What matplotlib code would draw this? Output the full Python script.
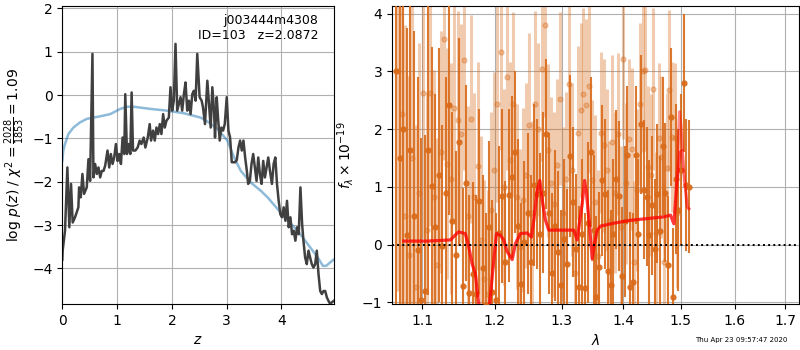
import numpy as np
import matplotlib
matplotlib.use("Agg")
import matplotlib.pyplot as plt
from matplotlib.ticker import FixedLocator, FixedFormatter, NullLocator

plt.rcParams['font.family'] = ['DejaVu Sans']
plt.rcParams['font.size'] = 10

# ---------------- redshift probability ----------------
pz_z = [0.0, 0.006, 0.049, 0.092, 0.128, 0.159, 0.189, 0.232, 0.293, 0.306, 0.336, 0.367,
        0.397, 0.446, 0.477, 0.507, 0.550, 0.568, 0.599, 0.630, 0.660, 0.691, 0.721,
        0.752, 0.782, 0.825, 0.856, 0.886, 0.917, 0.947, 0.978, 1.009, 1.039, 1.070,
        1.100, 1.131, 1.149, 1.180, 1.210, 1.241, 1.265, 1.290, 1.333, 1.375, 1.412,
        1.443, 1.485, 1.516, 1.559, 1.595, 1.620, 1.656, 1.687, 1.718, 1.748, 1.779,
        1.809, 1.840, 1.870, 1.901, 1.944, 1.974, 2.005, 2.035, 2.066, 2.097, 2.127,
        2.158, 2.188, 2.219, 2.249, 2.280, 2.311, 2.341, 2.372, 2.402, 2.433, 2.463,
        2.506, 2.543, 2.567, 2.604, 2.647, 2.677, 2.708, 2.738, 2.769, 2.787, 2.818,
        2.842, 2.873, 2.903, 2.934, 2.965, 3.001, 3.032, 3.062, 3.093, 3.123, 3.154,
        3.184, 3.215, 3.245, 3.276, 3.306, 3.337, 3.368, 3.392, 3.423, 3.453, 3.484,
        3.515, 3.545, 3.576, 3.606, 3.637, 3.667, 3.698, 3.729, 3.759, 3.790, 3.826,
        3.857, 3.888, 3.918, 3.949, 3.979, 4.010, 4.040, 4.071, 4.101, 4.132, 4.163,
        4.193, 4.224, 4.254, 4.285, 4.315, 4.346, 4.377, 4.401, 4.432, 4.462, 4.493,
        4.523, 4.554, 4.584, 4.615, 4.645, 4.676, 4.707, 4.737, 4.768, 4.798, 4.829,
        4.859, 4.890, 4.920, 4.951]
pz_logp = [-3.80, -3.59, -3.13, -1.67, -3.05, -2.05, -2.94, -2.82, -2.59, -2.13, -2.36, -1.82,
           -2.28, -2.13, -1.48, -1.98, 0.95, -1.90, -1.59, -1.82, -1.67, -1.90, -1.75,
           -1.75, -1.63, -1.28, -1.67, -1.36, -1.59, -1.44, -1.13, -1.52, -1.36, -1.59,
           -0.98, -1.36, 0.02, -1.36, -1.13, -1.36, 0.06, -1.28, -1.28, -1.21, -1.05,
           -1.13, -0.98, -1.21, -0.98, -0.67, -1.05, -0.82, -1.05, -0.75, -0.90, -0.67,
           -0.90, -0.44, -0.75, -0.59, -0.52, 0.18, -0.36, -0.13, 1.18, -0.36, -0.21,
           -0.05, -0.36, 0.02, 0.29, -0.36, -0.13, -0.44, 0.02, 0.10, -0.13, 0.95,
           -0.05, -0.13, -0.28, -0.67, 0.33, -0.21, -0.75, 0.18, -0.36, -0.98, -0.05,
           -0.52, -1.05, -0.75, -0.82, -0.67, -0.05, -0.82, -0.98, -1.55, -1.55, -1.55,
           -1.50, -1.21, -1.05, -1.28, -1.05, -1.44, -1.75, -2.05, -1.98, -1.59, -1.36,
           -1.67, -1.98, -1.44, -1.82, -2.05, -1.52, -1.90, -1.67, -1.44, -1.75, -2.05,
           -1.59, -1.44, -2.05, -2.44, -2.75, -2.82, -2.59, -2.90, -2.44, -3.05, -2.82,
           -3.21, -3.13, -3.36, -3.05, -3.21, -2.13, -2.98, -3.36, -3.75, -3.90, -3.59,
           -3.75, -3.90, -3.98, -3.90, -3.59, -4.13, -4.52, -4.59, -4.52, -4.52, -4.67,
           -4.75, -4.82, -4.78, -4.75]

prior_z = [0.0, 0.018, 0.049, 0.110, 0.202, 0.324, 0.446, 0.568, 0.691, 0.874, 0.966, 1.057,
           1.180, 1.302, 1.608, 1.913, 2.219, 2.524, 2.647, 2.830, 3.013, 3.136, 3.258,
           3.441, 3.625, 3.747, 3.930, 4.114, 4.297, 4.480, 4.664, 4.756, 4.817, 4.908, 4.969]
prior_logp = [-1.52, -1.28, -1.13, -0.90, -0.75, -0.63, -0.55, -0.52, -0.49, -0.44, -0.38, -0.32,
              -0.27, -0.27, -0.32, -0.36, -0.42, -0.52, -0.61, -0.78, -1.05, -1.44, -1.75,
              -2.02, -2.21, -2.36, -2.63, -2.90, -3.13, -3.44, -3.75, -3.94, -3.94, -3.84, -3.78]

root_name = 'j003444m4308'
obj_id = 103
z_best = 2.0872
chi2_num, chi2_dof = 2028, 1853

# ---------------- 1D spectra ----------------
# two exposures sampled on the grism pixel grid
dark_wave0, dark_dwave, dark_n = 1.066, 0.00467, 97
dark_flux = [3.0, 1.5, 2.0, 0.16, 1.63, 0.5, -0.1, -0.96, -0.8, 1.63,
             1.02, 0.3, 1.2, -0.03, 0.9, 2.41, 0.4, -0.18, 1.78, -0.72,
             1.07, -0.84, -0.51, -0.85, 0.75, -0.4, -1.05, 0.3, -0.82, -0.96,
             0.2, 0.84, -0.3, 0.85, 1.17, 1.6, 0.33, -0.68, 0.05, 0.54,
             -0.3, 1.03, 0.88, 0.19, 0.9, 1.92, 0.54, -0.5, 0.33, -0.13,
             -0.7, 0.09, -0.33, 1.53, 0.74, -0.07, -0.73, 0.19, -0.76, 0.38,
             1.6, 0.25, -0.9, -0.39, 1.11, 0.88, -0.45, -0.7, 0.19, 1.13,
             0.84, -0.55, 0.4, 1.55, -0.73, -0.65, 1.55, 0.19, 2.08, 0.95,
             0.83, 0.16, 0.68, -0.07, 0.88, 0.23, 1.71, 0.9, -0.36, 2.21,
             -0.91, 1.13, 0.6, 1.3, 2.8, 1.03, 1.0]
dark_err = [4.2, 4.0, 3.8, 3.6, 3.4, 3.2, 3.0, 2.8, 2.7, 2.5,
            2.4, 2.3, 2.2, 2.1, 2.0, 1.9, 1.9, 1.8, 1.8, 1.7,
            1.7, 1.7, 1.6, 1.7, 1.6, 1.6, 1.6, 1.5, 1.6, 1.5,
            1.5, 1.5, 1.4, 1.5, 1.4, 1.4, 1.5, 1.4, 1.4, 1.4,
            1.5, 1.4, 1.3, 1.4, 1.4, 1.3, 1.4, 1.4, 1.3, 1.4,
            1.3, 1.4, 1.3, 1.4, 1.3, 1.3, 1.4, 1.3, 1.3, 1.4,
            1.3, 1.3, 1.4, 1.3, 1.3, 1.3, 1.4, 1.3, 1.3, 1.2,
            1.3, 1.2, 1.3, 1.2, 1.3, 1.2, 1.2, 1.3, 1.2, 1.2,
            1.2, 1.3, 1.2, 1.2, 1.2, 1.3, 1.2, 1.2, 1.2, 1.2,
            1.2, 1.3, 1.4, 1.3, 1.2, 1.15, 1.15]

light_wave0, light_dwave, light_n = 1.0685, 0.00467, 92
light_flux = [3.0, 2.27, 0.5, -0.18, 1.5, -0.73, 0.9,
              2.62, 0.25, 2.62, 0.83, -0.36, 1.6, 3.56,
              1.4, 1.14, 2.36, 2.15, 1.92, 3.2, 0.5,
              2.18, 0.83, 1.36, 0.08, -0.59, -0.85, 0.6,
              1.29, 2.44, 3.34, 1.0, 2.9, 1.47, 2.43,
              0.83, -0.04, 0.77, 1.2, 2.07, 0.54, 2.44,
              2.0, 3.05, 3.81, 1.63, 1.06, 0.7, 1.37,
              2.53, 0.54, 1.14, 2.78, 1.3, -0.5, 1.94,
              2.33, 2.6, 2.41, 2.74, 1.11, 0.74, -0.2,
              1.94, 1.72, 1.29, 0.4, 1.78, 0.9, 1.92,
              0.3, 3.22, 1.06, 1.82, 1.66, -0.3, 0.95,
              2.44, 3.0, 3.02, 1.34, 1.2, 2.7, 0.2,
              1.85, 1.52, -0.3, 1.32, 2.67, 1.86, 1.84,
              0.54]
light_err = [3.8, 3.5, 3.3, 3.1, 3.0, 2.8, 2.6, 2.5, 2.4, 2.3,
             2.2, 2.2, 2.1, 2.1, 2.0, 2.0, 2.0, 1.9, 1.9, 1.9,
             1.9, 1.8, 1.8, 1.8, 1.8, 1.7, 1.8, 1.7, 1.7, 1.7,
             1.7, 1.7, 1.6, 1.7, 1.6, 1.6, 1.7, 1.6, 1.6, 1.6,
             1.6, 1.6, 1.5, 1.6, 1.6, 1.5, 1.5, 1.6, 1.5, 1.5,
             1.5, 1.5, 1.6, 1.5, 1.5, 1.5, 1.5, 1.5, 1.5, 1.5,
             1.4, 1.5, 1.5, 1.4, 1.5, 1.4, 1.4, 1.5, 1.4, 1.4,
             1.4, 1.4, 1.4, 1.4, 1.4, 1.4, 1.4, 1.4, 1.4, 1.4,
             1.4, 1.4, 1.4, 1.4, 1.3, 1.4, 1.4, 1.3, 1.4, 1.3,
             1.3, 1.3]

model_wave = [1.076, 1.107, 1.138, 1.149, 1.1585, 1.1631, 1.1678, 1.1725, 1.1771, 1.185,
              1.1928, 1.1986, 1.2025, 1.2083, 1.2130, 1.2180, 1.2254, 1.2302, 1.2376,
              1.2476, 1.2540, 1.2575, 1.2627, 1.2666, 1.2703, 1.2753, 1.2803, 1.3036,
              1.3193, 1.3247, 1.3288, 1.3327, 1.3364, 1.3396, 1.3433, 1.3488, 1.3525,
              1.3569, 1.3623, 1.3842, 1.4122, 1.4407, 1.4696, 1.4815, 1.4874]
model_flux = [0.06, 0.06, 0.08, 0.22, 0.19, -0.03, -0.33, -0.5, -1.02, -1.4,
              -1.02, -0.27, 0.19, 0.16, 0.08, -0.12, -0.26, 0.02, 0.19,
              0.20, 0.13, 0.42, 0.94, 1.11, 0.77, 0.42, 0.25, 0.25,
              0.25, 0.08, 0.42, 0.71, 1.11, 0.88, 0.45, -0.25, 0.02,
              0.25, 0.32, 0.37, 0.42, 0.45, 0.48, 0.51, 0.36]
# red ends of the two model traces
dark_model_wave_end = [1.4935, 1.4985, 1.5025, 1.5067, 1.5115, 1.5144]
dark_model_flux_end = [1.1, 1.6, 1.63, 1.1, 0.65, 0.62]
light_model_wave_end = [1.4935, 1.4975, 1.5005, 1.503]
light_model_flux_end = [1.3, 2.3, 2.0, 1.65]

timestamp = 'Thu Apr 23 09:57:47 2020'
wave_ticks = [1.1, 1.2, 1.3, 1.4, 1.5, 1.6, 1.7]

spec_color = '#d96b1a'

fig = plt.figure(figsize=(8, 3.5), dpi=100)

# ---- left: p(z) ----
ax1 = fig.add_axes([0.0779, 0.1314, 0.339, 0.851])
ax1.plot(prior_z, prior_logp, color='#1f77b4', alpha=0.5, lw=1.8)
ax1.plot(pz_z, pz_logp, color='0.25', lw=1.8)
ax1.set_xlim(0, 4.95)
ax1.set_ylim(-4.82, 2.05)
ax1.set_xticks([0, 1, 2, 3, 4])
ax1.set_yticks([-4, -3, -2, -1, 0, 1, 2])
ax1.grid(True)
ax1.set_xlabel(r'$z$')
ax1.set_ylabel(r'log $p(z)$ / $\chi^2=\frac{%d}{%d}=%.2f$'
               % (chi2_num, chi2_dof, chi2_num / chi2_dof))
ax1.text(0.945, 0.975, '%s\nID=%d   z=%.4f' % (root_name, obj_id, z_best),
         ha='right', va='top', transform=ax1.transAxes, fontsize=9)

# ---- right: spectrum ----
ax2 = fig.add_axes([0.49, 0.1314, 0.509, 0.851])
dark_wave = dark_wave0 + dark_dwave * np.arange(dark_n)
light_wave = light_wave0 + light_dwave * np.arange(light_n)

ax2.errorbar(light_wave, light_flux, yerr=light_err, fmt='o', color=spec_color,
             alpha=0.35, ms=3.5, elinewidth=2.2, capsize=0, zorder=2)
ax2.errorbar(dark_wave, dark_flux, yerr=dark_err, fmt='o', color=spec_color,
             alpha=0.9, ms=3.5, elinewidth=1.5, capsize=0, zorder=3)

dm_w = list(model_wave) + dark_model_wave_end
dm_f = list(model_flux) + dark_model_flux_end
lm_w = list(model_wave) + light_model_wave_end
lm_f = list(model_flux) + light_model_flux_end
ax2.plot(lm_w, lm_f, color='red', alpha=0.45, lw=2.2, zorder=4)
ax2.plot(dm_w, dm_f, color='red', alpha=0.6, lw=2.2, zorder=5)

ax2.axhline(0, color='k', ls=':', lw=1.4, zorder=6)
ax2.set_xscale('log')
ax2.set_xlim(1.061, 1.7285)
ax2.set_ylim(-1.03, 4.13)
ax2.xaxis.set_major_locator(FixedLocator(wave_ticks))
ax2.xaxis.set_major_formatter(FixedFormatter(['%.1f' % t for t in wave_ticks]))
ax2.xaxis.set_minor_locator(NullLocator())
ax2.set_yticks([-1, 0, 1, 2, 3, 4])
ax2.grid(True)
ax2.set_xlabel(r'$\lambda$')
ax2.set_ylabel(r'$f_\lambda \times 10^{-19}$')

fig.text(0.984, 0.02, timestamp, ha='right', va='bottom', fontsize=5)

fig.savefig('out.png', dpi=100)
